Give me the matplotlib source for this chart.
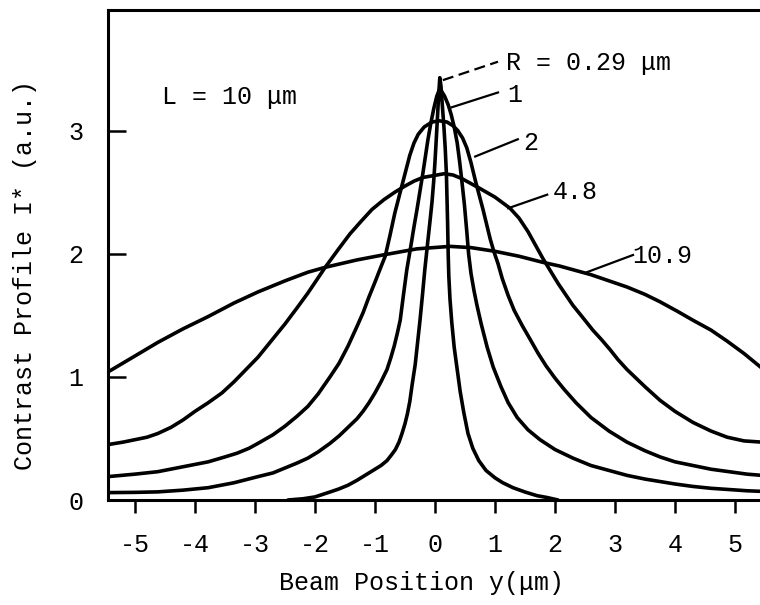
import numpy as np
import matplotlib.pyplot as plt

# contrast profiles for L = 10 um, one per source radius R (um)
r_labels = ["R = 0.29 \u03bcm", "1", "2", "4.8", "10.9"]

x_029 = [-2.45, -2.2, -2.0, -1.75, -1.6, -1.45, -1.3, -1.2, -1.1, -1.0, -0.9, -0.8, -0.72, -0.66, -0.6, -0.55,
         -0.5, -0.46, -0.42, -0.38, -0.33, -0.29, -0.25, -0.21, -0.17, -0.12, -0.08, -0.05, -0.02, 0.0, 0.02,
         0.04, 0.06, 0.08, 0.1, 0.12, 0.15, 0.17, 0.19, 0.2, 0.21, 0.22, 0.23, 0.25, 0.28, 0.32, 0.37, 0.42,
         0.48, 0.55, 0.63, 0.73, 0.85, 1.0, 1.13, 1.3, 1.5, 1.7, 1.87, 2.05]
y_029 = [0.0, 0.01, 0.025, 0.065, 0.09, 0.12, 0.16, 0.19, 0.22, 0.25, 0.28, 0.32, 0.37, 0.41, 0.47, 0.54,
         0.62, 0.7, 0.8, 0.94, 1.1, 1.28, 1.46, 1.66, 1.87, 2.1, 2.28, 2.42, 2.6, 2.75, 2.92,
         3.1, 3.28, 3.43, 3.36, 3.22, 3.02, 2.86, 2.65, 2.45, 2.25, 2.0, 1.82, 1.63, 1.44, 1.24, 1.06, 0.88,
         0.71, 0.54, 0.42, 0.32, 0.24, 0.18, 0.14, 0.1, 0.065, 0.035, 0.02, 0.0]

x_1 = [-5.45, -5.0, -4.62, -4.2, -3.78, -3.35, -2.95, -2.7, -2.5, -2.3, -2.12, -1.95, -1.75, -1.6, -1.45, -1.3,
       -1.2, -1.1, -1.0, -0.9, -0.8, -0.74, -0.68, -0.63, -0.58, -0.53, -0.47, -0.4, -0.35, -0.3, -0.25, -0.2,
       -0.16, -0.12, -0.07, -0.02, 0.03, 0.07, 0.11, 0.16, 0.22, 0.27, 0.32, 0.37, 0.41, 0.45, 0.49, 0.53,
       0.56, 0.6, 0.65, 0.7, 0.77, 0.87, 0.97, 1.1, 1.22, 1.37, 1.55, 1.75, 2.0, 2.3, 2.6, 2.9, 3.2, 3.5,
       3.75, 4.0, 4.3, 4.6, 4.9, 5.2, 5.45]
y_1 = [0.06, 0.062, 0.066, 0.08, 0.1, 0.14, 0.19, 0.22, 0.26, 0.3, 0.34, 0.39, 0.46, 0.52, 0.59, 0.66,
       0.72, 0.79, 0.87, 0.96, 1.06, 1.15, 1.25, 1.35, 1.46, 1.65, 1.87, 2.07, 2.22, 2.36, 2.51, 2.66,
       2.79, 2.92, 3.06, 3.18, 3.28, 3.33, 3.32, 3.28, 3.21, 3.13, 3.03, 2.9, 2.75, 2.58, 2.4, 2.18,
       2.0, 1.84, 1.7, 1.58, 1.43, 1.24, 1.08, 0.92, 0.79, 0.67, 0.57, 0.49, 0.41, 0.34, 0.28, 0.24, 0.2, 0.17,
       0.15, 0.13, 0.11, 0.095, 0.085, 0.075, 0.07]

x_2 = [-5.45, -5.0, -4.62, -4.2, -3.78, -3.5, -3.3, -3.1, -2.95, -2.7, -2.5, -2.3, -2.12, -1.95, -1.75, -1.6,
       -1.45, -1.3, -1.2, -1.1, -1.0, -0.92, -0.83, -0.75, -0.67, -0.58, -0.5, -0.42, -0.35, -0.28, -0.18,
       -0.05, 0.07, 0.2, 0.3, 0.38, 0.46, 0.53, 0.6, 0.67, 0.74, 0.8, 0.86, 0.92, 0.98, 1.05, 1.12, 1.22,
       1.32, 1.45, 1.58, 1.72, 1.85, 2.0, 2.15, 2.35, 2.6, 2.9, 3.2, 3.5, 3.75, 4.0, 4.3, 4.6, 4.9, 5.2, 5.45]
y_2 = [0.19, 0.21, 0.23, 0.27, 0.31, 0.35, 0.38, 0.42, 0.46, 0.53, 0.6, 0.68, 0.76, 0.86, 1.0, 1.11,
       1.25, 1.41, 1.52, 1.65, 1.77, 1.87, 1.98, 2.15, 2.33, 2.5, 2.65, 2.8, 2.9, 2.97, 3.03,
       3.07, 3.08, 3.07, 3.04, 3.0, 2.94, 2.86, 2.74, 2.6, 2.47, 2.36, 2.24, 2.12, 2.02, 1.92, 1.8, 1.66,
       1.54, 1.42, 1.31, 1.19, 1.09, 0.99, 0.9, 0.79, 0.67, 0.56, 0.47, 0.4, 0.35, 0.31, 0.28, 0.25, 0.23, 0.21, 0.2]

x_48 = [-5.45, -5.2, -5.0, -4.8, -4.62, -4.4, -4.2, -4.0, -3.78, -3.55, -3.35, -3.15, -2.95, -2.7, -2.5, -2.3,
        -2.12, -1.83, -1.62, -1.42, -1.22, -1.05, -0.85, -0.67, -0.5, -0.35, -0.2, -0.08, 0.15, 0.3, 0.45,
        0.6, 0.75, 1.0, 1.25, 1.4, 1.55, 1.8, 2.05, 2.3, 2.45, 2.63, 2.78, 2.92, 3.05, 3.2, 3.5, 3.75, 4.0,
        4.3, 4.6, 4.87, 5.15, 5.45]
y_48 = [0.45, 0.47, 0.49, 0.51, 0.54, 0.59, 0.65, 0.72, 0.79, 0.87, 0.96, 1.06, 1.16, 1.31, 1.43, 1.56,
        1.68, 1.89, 2.03, 2.16, 2.27, 2.36, 2.44, 2.5, 2.55, 2.59, 2.62, 2.63, 2.65, 2.64, 2.61,
        2.57, 2.53, 2.46, 2.37, 2.29, 2.18, 1.96, 1.76, 1.58, 1.49, 1.38, 1.3, 1.22, 1.14, 1.06, 0.92, 0.81, 0.72,
        0.63, 0.56, 0.51, 0.48, 0.47]

x_109 = [-5.45, -5.0, -4.62, -4.2, -3.78, -3.35, -2.95, -2.5, -2.12, -1.83, -1.3, -0.87, -0.3, 0.25, 0.6, 1.0,
         1.4, 1.8, 2.08, 2.6, 2.9, 3.2, 3.5, 3.75, 4.05, 4.3, 4.6, 4.87, 5.15, 5.45]
y_109 = [1.04, 1.17, 1.28, 1.39, 1.49, 1.6, 1.69, 1.78, 1.85, 1.89, 1.95, 1.99, 2.04, 2.06, 2.05, 2.02,
         1.98, 1.93, 1.9, 1.83, 1.78, 1.73, 1.67, 1.61, 1.53, 1.46, 1.38, 1.29, 1.19, 1.07]

# leader line (start on curve, end at text) and text position for each label
leader_start = [(0.13, 3.41), (0.28, 3.19), (0.67, 2.79), (1.22, 2.37), (2.53, 1.85)]
leader_end = [(1.05, 3.56), (1.05, 3.31), (1.38, 2.93), (1.87, 2.48), (3.3, 1.99)]
label_pos = [(1.18, 3.55), (1.2, 3.29), (1.47, 2.9), (1.97, 2.5), (3.28, 1.98)]

x_ticks = [-5, -4, -3, -2, -1, 0, 1, 2, 3, 4, 5]
x_tick_labels = ["-5", "-4", "-3", "-2", "-1", "0", "1", "2", "3", "4", "5"]
y_ticks = [0, 1, 2, 3]

plt.rcParams['font.family'] = ['Liberation Mono', 'DejaVu Sans Mono']
fs = 18

fig = plt.figure(figsize=(7.6, 6.05), dpi=100)
ax = fig.add_axes([108/760, 1 - 500/605, 654/760, 490/605])

curves = [(x_029, y_029), (x_1, y_1), (x_2, y_2), (x_48, y_48), (x_109, y_109)]
for xs, ys in curves:
    ax.plot(xs, ys, color="black", lw=2.6, solid_joinstyle="round", solid_capstyle="round")

for i, lab in enumerate(r_labels):
    (x0, y0), (x1, y1) = leader_start[i], leader_end[i]
    ls = (0, (5, 2.5)) if i == 0 else "-"
    ax.plot([x0, x1], [y0, y1], color="black", lw=1.6, linestyle=ls)
    ax.text(label_pos[i][0], label_pos[i][1], lab, fontsize=fs, ha="left", va="center")

ax.text(-4.55, 3.27, "L = 10 \u03bcm", fontsize=fs, ha="left", va="center")

ax.set_xlim(-5.45, 5.45)
ax.set_ylim(0, 3.98)
ax.spines["right"].set_visible(False)
for s in ["left", "bottom", "top"]:
    ax.spines[s].set_linewidth(2.2)

ax.set_xticks(x_ticks)
ax.set_xticklabels(x_tick_labels)
ax.set_yticks(y_ticks)
ax.tick_params(axis="x", direction="out", length=9, width=1.8, pad=15, labelsize=fs)
ax.tick_params(axis="y", direction="in", length=13, width=1.8, pad=18, labelsize=fs)

ax.set_xlabel("Beam Position y(\u03bcm)", fontsize=fs, va="center")
ax.xaxis.set_label_coords(0.48, -0.169)
ax.set_ylabel("Contrast Profile I* (a.u.)", fontsize=fs, va="center")
ax.yaxis.set_label_coords(-0.127, 0.459)

fig.savefig("out.png", dpi=100)
